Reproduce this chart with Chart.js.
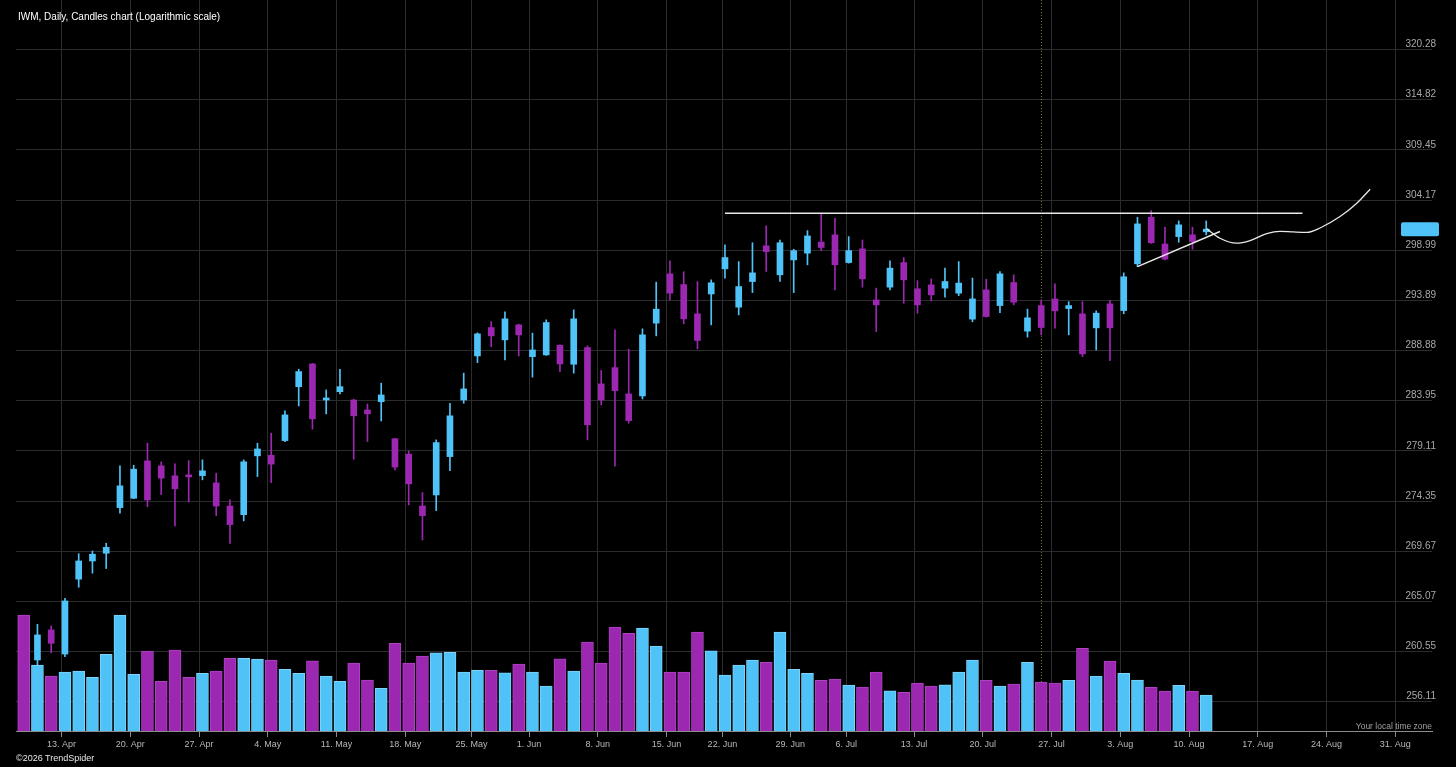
<!DOCTYPE html>
<html>
<head>
<meta charset="utf-8">
<title>IWM, Daily, Candles chart (Logarithmic scale)</title>
<script src="https://cdn.jsdelivr.net/npm/chart.js@4.4.1/dist/chart.umd.min.js"></script>
<style>
  html, body { margin: 0; padding: 0; background: #000; }
  #wrap { position: relative; width: 1456px; height: 767px; overflow: hidden; background: #000; }
  #c { display: block; }
  .txt { position: absolute; font-family: "Liberation Sans", Arial, sans-serif; white-space: nowrap; }
  #title { left: 18px; top: 11px; font-size: 10px; color: #ffffff; }
  #copy { left: 16px; top: 753px; font-size: 9px; color: #e8e8e8; }
  #tz { right: 24px; top: 721px; font-size: 8.5px; color: #a0a0a0; }
</style>
</head>
<body>
<div id="wrap">
  <canvas id="c" width="1456" height="767"></canvas>
  <div class="txt" id="title">IWM, Daily, Candles chart (Logarithmic scale)</div>
  <div class="txt" id="copy">©2026 TrendSpider</div>
  <div class="txt" id="tz">Your local time zone</div>
</div>
<script>
// ---------------- DATA ----------------
const firstDay = '2026-04-08';
const lastDay = '2026-08-11';
const marketHolidays = ['2026-05-25', '2026-06-19', '2026-07-03'];

const open = [262.49, 259.80, 262.49, 260.33, 267.10, 268.77, 269.48, 273.73, 274.61, 278.15,
  277.68, 276.73, 276.73, 276.75, 276.06, 273.88, 273.07, 278.63, 278.69, 280.09,
  285.32, 287.55, 284.02, 284.83, 284.02, 283.05, 283.85, 280.27, 278.79, 273.88,
  274.92, 278.56, 284.02, 288.34, 291.16, 289.93, 291.43, 288.27, 288.44, 289.40,
  287.52, 289.17, 285.59, 287.19, 284.61, 284.41, 291.60, 296.57, 295.48, 292.53,
  294.53, 297.08, 293.20, 295.79, 299.43, 296.47, 297.99, 298.68, 299.82, 300.56,
  297.72, 299.12, 293.93, 295.22, 297.72, 295.05, 295.45, 295.12, 294.61, 292.00,
  294.95, 293.36, 295.69, 290.80, 293.36, 294.03, 293.06, 292.53, 291.13, 293.53,
  292.86, 297.59, 302.38, 299.62, 300.38, 300.56, 300.87];

const high = [263.21, 263.00, 262.85, 265.35, 269.44, 269.69, 270.41, 277.68, 277.74, 279.84,
  278.06, 277.87, 278.18, 278.25, 276.98, 274.45, 278.25, 279.84, 280.81, 282.96,
  287.03, 287.60, 285.00, 287.03, 284.10, 283.63, 285.66, 280.30, 279.10, 275.14,
  280.16, 283.70, 286.64, 290.63, 291.76, 292.73, 291.50, 290.60, 291.93, 289.45,
  292.93, 289.34, 286.90, 290.93, 289.00, 291.03, 295.73, 297.89, 296.78, 295.78,
  295.96, 299.53, 297.82, 299.75, 301.49, 300.03, 299.08, 301.00, 302.80, 302.28,
  300.38, 300.03, 295.12, 297.89, 298.23, 295.88, 296.06, 297.15, 297.82, 296.14,
  296.03, 296.81, 296.47, 293.00, 293.93, 295.56, 293.76, 293.76, 292.83, 293.90,
  296.67, 302.38, 303.07, 301.35, 302.00, 301.35, 302.00];

const low = [259.09, 258.74, 260.44, 260.09, 266.36, 267.65, 268.07, 273.20, 274.57, 273.82,
  274.95, 272.02, 274.26, 276.35, 272.98, 270.40, 272.49, 276.66, 276.09, 280.00,
  283.44, 281.19, 282.67, 284.61, 278.31, 280.00, 281.99, 277.29, 273.98, 270.71,
  273.45, 277.23, 283.70, 287.68, 289.26, 287.95, 288.34, 286.25, 288.40, 286.80,
  286.64, 280.16, 283.54, 277.64, 281.77, 284.12, 290.33, 293.93, 291.53, 289.04,
  291.43, 296.14, 292.43, 294.67, 296.81, 295.79, 294.67, 297.49, 298.94, 294.95,
  297.66, 295.22, 290.76, 294.95, 293.60, 292.60, 293.83, 294.20, 294.36, 291.73,
  292.20, 292.66, 293.43, 290.20, 290.43, 291.10, 290.43, 288.27, 288.93, 287.88,
  292.53, 297.31, 299.68, 298.00, 299.80, 299.08, 300.56];

const close = [260.24, 262.04, 261.29, 265.11, 268.77, 269.39, 270.03, 275.78, 277.36, 274.45,
  276.51, 275.50, 276.63, 277.20, 273.88, 272.14, 278.06, 279.29, 277.84, 282.57,
  286.80, 282.19, 284.19, 285.32, 282.48, 282.67, 284.51, 277.56, 275.97, 272.98,
  279.90, 282.48, 285.10, 290.53, 290.33, 292.03, 290.43, 288.93, 291.66, 287.55,
  292.03, 281.61, 284.02, 284.93, 282.02, 290.43, 293.00, 294.61, 292.03, 289.87,
  295.66, 298.23, 295.28, 296.67, 298.84, 299.75, 298.94, 300.45, 299.26, 297.49,
  298.94, 296.06, 293.43, 297.15, 295.96, 293.43, 294.44, 295.79, 295.63, 294.03,
  292.26, 296.57, 293.70, 292.13, 291.16, 292.83, 293.36, 288.54, 292.60, 291.13,
  296.27, 301.69, 299.75, 298.07, 301.59, 299.87, 301.15];

// volume, millions of shares
const volume = [46.4, 26.4, 22.0, 23.6, 24.0, 21.5, 30.7, 46.4, 22.7, 32.0,
  19.9, 32.4, 21.5, 23.1, 24.0, 29.1, 29.1, 28.8, 28.4, 24.7,
  23.1, 28.1, 22.0, 19.9, 27.2, 20.4, 17.1, 35.1, 27.2, 30.0,
  31.3, 31.5, 23.6, 24.3, 24.3, 23.3, 26.8, 23.6, 18.0, 28.9,
  24.0, 35.6, 27.2, 41.6, 39.1, 41.2, 34.0, 23.6, 23.6, 39.6,
  32.1, 22.4, 26.4, 28.4, 27.5, 39.6, 24.7, 23.1, 20.3, 20.8,
  18.4, 17.6, 23.6, 16.1, 15.5, 19.2, 18.0, 18.5, 23.6, 28.4,
  20.3, 18.0, 18.8, 27.5, 19.6, 19.2, 20.3, 33.1, 22.0, 28.0,
  23.1, 20.4, 17.5, 16.0, 18.3, 16.0, 14.4];

const xTickDates = ['2026-04-13', '2026-04-20', '2026-04-27', '2026-05-04', '2026-05-11', '2026-05-18',
  '2026-05-25', '2026-06-01', '2026-06-08', '2026-06-15', '2026-06-22', '2026-06-29', '2026-07-06',
  '2026-07-13', '2026-07-20', '2026-07-27', '2026-08-03', '2026-08-10', '2026-08-17', '2026-08-24', '2026-08-31'];
const xTickLabels = ['13. Apr', '20. Apr', '27. Apr', '4. May', '11. May', '18. May', '25. May', '1. Jun',
  '8. Jun', '15. Jun', '22. Jun', '29. Jun', '6. Jul', '13. Jul', '20. Jul', '27. Jul', '3. Aug',
  '10. Aug', '17. Aug', '24. Aug', '31. Aug'];
const yTickValues = [256.11, 260.55, 265.07, 269.67, 274.35, 279.11, 283.95, 288.88, 293.89,
  298.99, 304.17, 309.45, 314.82, 320.28];

// drawn annotations
const resistanceDates = ['2026-06-22', '2026-08-20'];
const resistancePrice = [302.8, 302.8];
const supportDates = ['2026-08-04', '2026-08-12'];
const supportPrice = [297.3, 300.9];
const projectionStep = [0.04, 1.0, 2.22, 3.19, 4.4, 5.36, 6.33, 7.31, 8.28, 9.73, 10.95, 11.92]; // trading days after last candle
const projectionPrice = [301.18, 300.21, 299.70, 299.97, 300.68, 300.92, 300.86, 300.82, 301.27, 302.45, 303.83, 305.30];
const markerDate = '2026-07-24';

// ---------------- CALENDAR HELPERS ----------------
function ymd(d) { return d.toISOString().slice(0, 10); }
function tradingDays(from, to) {
  const out = [];
  const d = new Date(from + 'T00:00:00Z');
  const end = new Date(to + 'T00:00:00Z');
  while (d <= end) {
    const wd = d.getUTCDay();
    const s = ymd(d);
    if (wd !== 0 && wd !== 6 && !marketHolidays.includes(s)) out.push(s);
    d.setUTCDate(d.getUTCDate() + 1);
  }
  return out;
}
const dates = tradingDays(firstDay, lastDay);
const axisDays = tradingDays(firstDay, '2026-09-30');
const dayIndex = s => axisDays.indexOf(s);
// fractional position of a calendar midnight between bar stamps (bars stamped 18h into their day)
function tickPos(s) {
  const t = Date.parse(s + 'T00:00:00Z');
  const stamp = i => Date.parse(axisDays[i] + 'T00:00:00Z') + 18 * 3600e3;
  for (let i = 0; i < axisDays.length - 1; i++) {
    const a = stamp(i), b = stamp(i + 1);
    if (t >= a && t < b) return i + (t - a) / (b - a);
  }
  return 0;
}

// ---------------- STYLE ----------------
const UP = '#4fc3f7', DOWN = '#9c27b0';
const UP_EDGE = '#7dd3f8', DOWN_EDGE = '#ad45c0';
const isUp = close.map((c, i) => c >= open[i]);
const lastIdx = dates.length - 1;

const overlay = {
  id: 'overlay',
  beforeDatasetsDraw(chart) {
    const { ctx, chartArea: a, scales: { x } } = chart;
    const px = Math.round(x.getPixelForValue(dayIndex(markerDate))) + 0.5;
    ctx.save();
    ctx.strokeStyle = '#7d7645';
    ctx.lineWidth = 1;
    ctx.setLineDash([1, 2]);
    ctx.beginPath();
    ctx.moveTo(px, a.top);
    ctx.lineTo(px, a.bottom);
    ctx.stroke();
    ctx.restore();
  },
  afterDraw(chart) {
    const { ctx, chartArea: a, scales: { y } } = chart;
    const py = y.getPixelForValue(close[lastIdx]);
    ctx.save();
    ctx.fillStyle = UP;
    ctx.beginPath();
    if (ctx.roundRect) ctx.roundRect(a.right - 31, py - 7, 38, 14, 2);
    else ctx.rect(a.right - 31, py - 7, 38, 14);
    ctx.fill();
    ctx.restore();
  }
};

const FONT = 'Liberation Sans';
new Chart(document.getElementById('c'), {
  type: 'bar',
  data: {
    datasets: [
      {
        type: 'line', label: 'Resistance', yAxisID: 'y', order: -3,
        data: resistanceDates.map((d, i) => ({ x: dayIndex(d), y: resistancePrice[i] })),
        borderColor: '#e8e8e8', borderWidth: 1.5, pointRadius: 0, fill: false
      },
      {
        type: 'line', label: 'Support', yAxisID: 'y', order: -3,
        data: supportDates.map((d, i) => ({ x: dayIndex(d), y: supportPrice[i] })),
        borderColor: '#e8e8e8', borderWidth: 1.5, pointRadius: 0, fill: false
      },
      {
        type: 'line', label: 'Projection', yAxisID: 'y', order: -3,
        data: projectionStep.map((s, i) => ({ x: lastIdx + s, y: projectionPrice[i] })),
        borderColor: '#e8e8e8', borderWidth: 1.3, pointRadius: 0, fill: false,
        cubicInterpolationMode: 'monotone'
      },
      {
        label: 'Volume', yAxisID: 'yv', order: 0, grouped: false,
        data: volume.map((v, i) => ({ x: i, y: v })),
        backgroundColor: isUp.map(u => u ? UP : DOWN),
        borderColor: isUp.map(u => u ? UP_EDGE : DOWN_EDGE),
        borderWidth: 1, borderSkipped: 'bottom',
        barThickness: 12
      },
      {
        label: 'Body', yAxisID: 'y', order: 1, grouped: false,
        data: open.map((o, i) => ({ x: i, y: [Math.min(o, close[i]), Math.max(o, close[i])] })),
        backgroundColor: isUp.map(u => u ? UP : DOWN),
        borderWidth: 0,
        barThickness: 6, minBarLength: 2
      },
      {
        label: 'Wick', yAxisID: 'y', order: 2, grouped: false,
        data: low.map((l, i) => ({ x: i, y: [l, high[i]] })),
        backgroundColor: isUp.map(u => u ? UP : DOWN),
        borderWidth: 0,
        barThickness: 1
      }
    ]
  },
  options: {
    responsive: false,
    animation: false,
    events: [],
    layout: { padding: { left: 16, top: 0, right: 0, bottom: 0 } },
    plugins: { legend: { display: false }, tooltip: { enabled: false }, title: { display: false } },
    scales: {
      x: {
        type: 'linear', min: -0.56, max: 102.42, offset: false,
        afterBuildTicks(s) { s.ticks = xTickDates.map(d => ({ value: tickPos(d) })); },
        afterFit(s) { s.height = 36; s.paddingLeft = 0; s.paddingRight = 0; },
        ticks: {
          autoSkip: false, maxRotation: 0, minRotation: 0, padding: 2,
          color: '#b8b8b8', font: { family: FONT, size: 9 },
          callback: (v, i) => xTickLabels[i]
        },
        grid: { offset: false, color: '#2c2c2c', tickColor: '#8a8a8a', tickLength: 6, drawTicks: true },
        border: { display: true, color: '#8c8c8c', width: 1 }
      },
      y: {
        type: 'logarithmic', position: 'right', min: 253.55, max: 325.76,
        afterBuildTicks(s) { s.ticks = yTickValues.map(v => ({ value: v })); },
        afterFit(s) { s.width = 24; s.paddingTop = 0; s.paddingBottom = 0; },
        ticks: {
          mirror: true, padding: 4, labelOffset: -5,
          color: '#a8a8a8', font: { family: FONT, size: 10 },
          callback: v => Number(v).toFixed(2)
        },
        grid: { color: '#2c2c2c', drawTicks: false },
        border: { display: false }
      },
      yv: { type: 'linear', display: false, min: 0, max: 292.4 }
    }
  },
  plugins: [overlay]
});
</script>
</body>
</html>
